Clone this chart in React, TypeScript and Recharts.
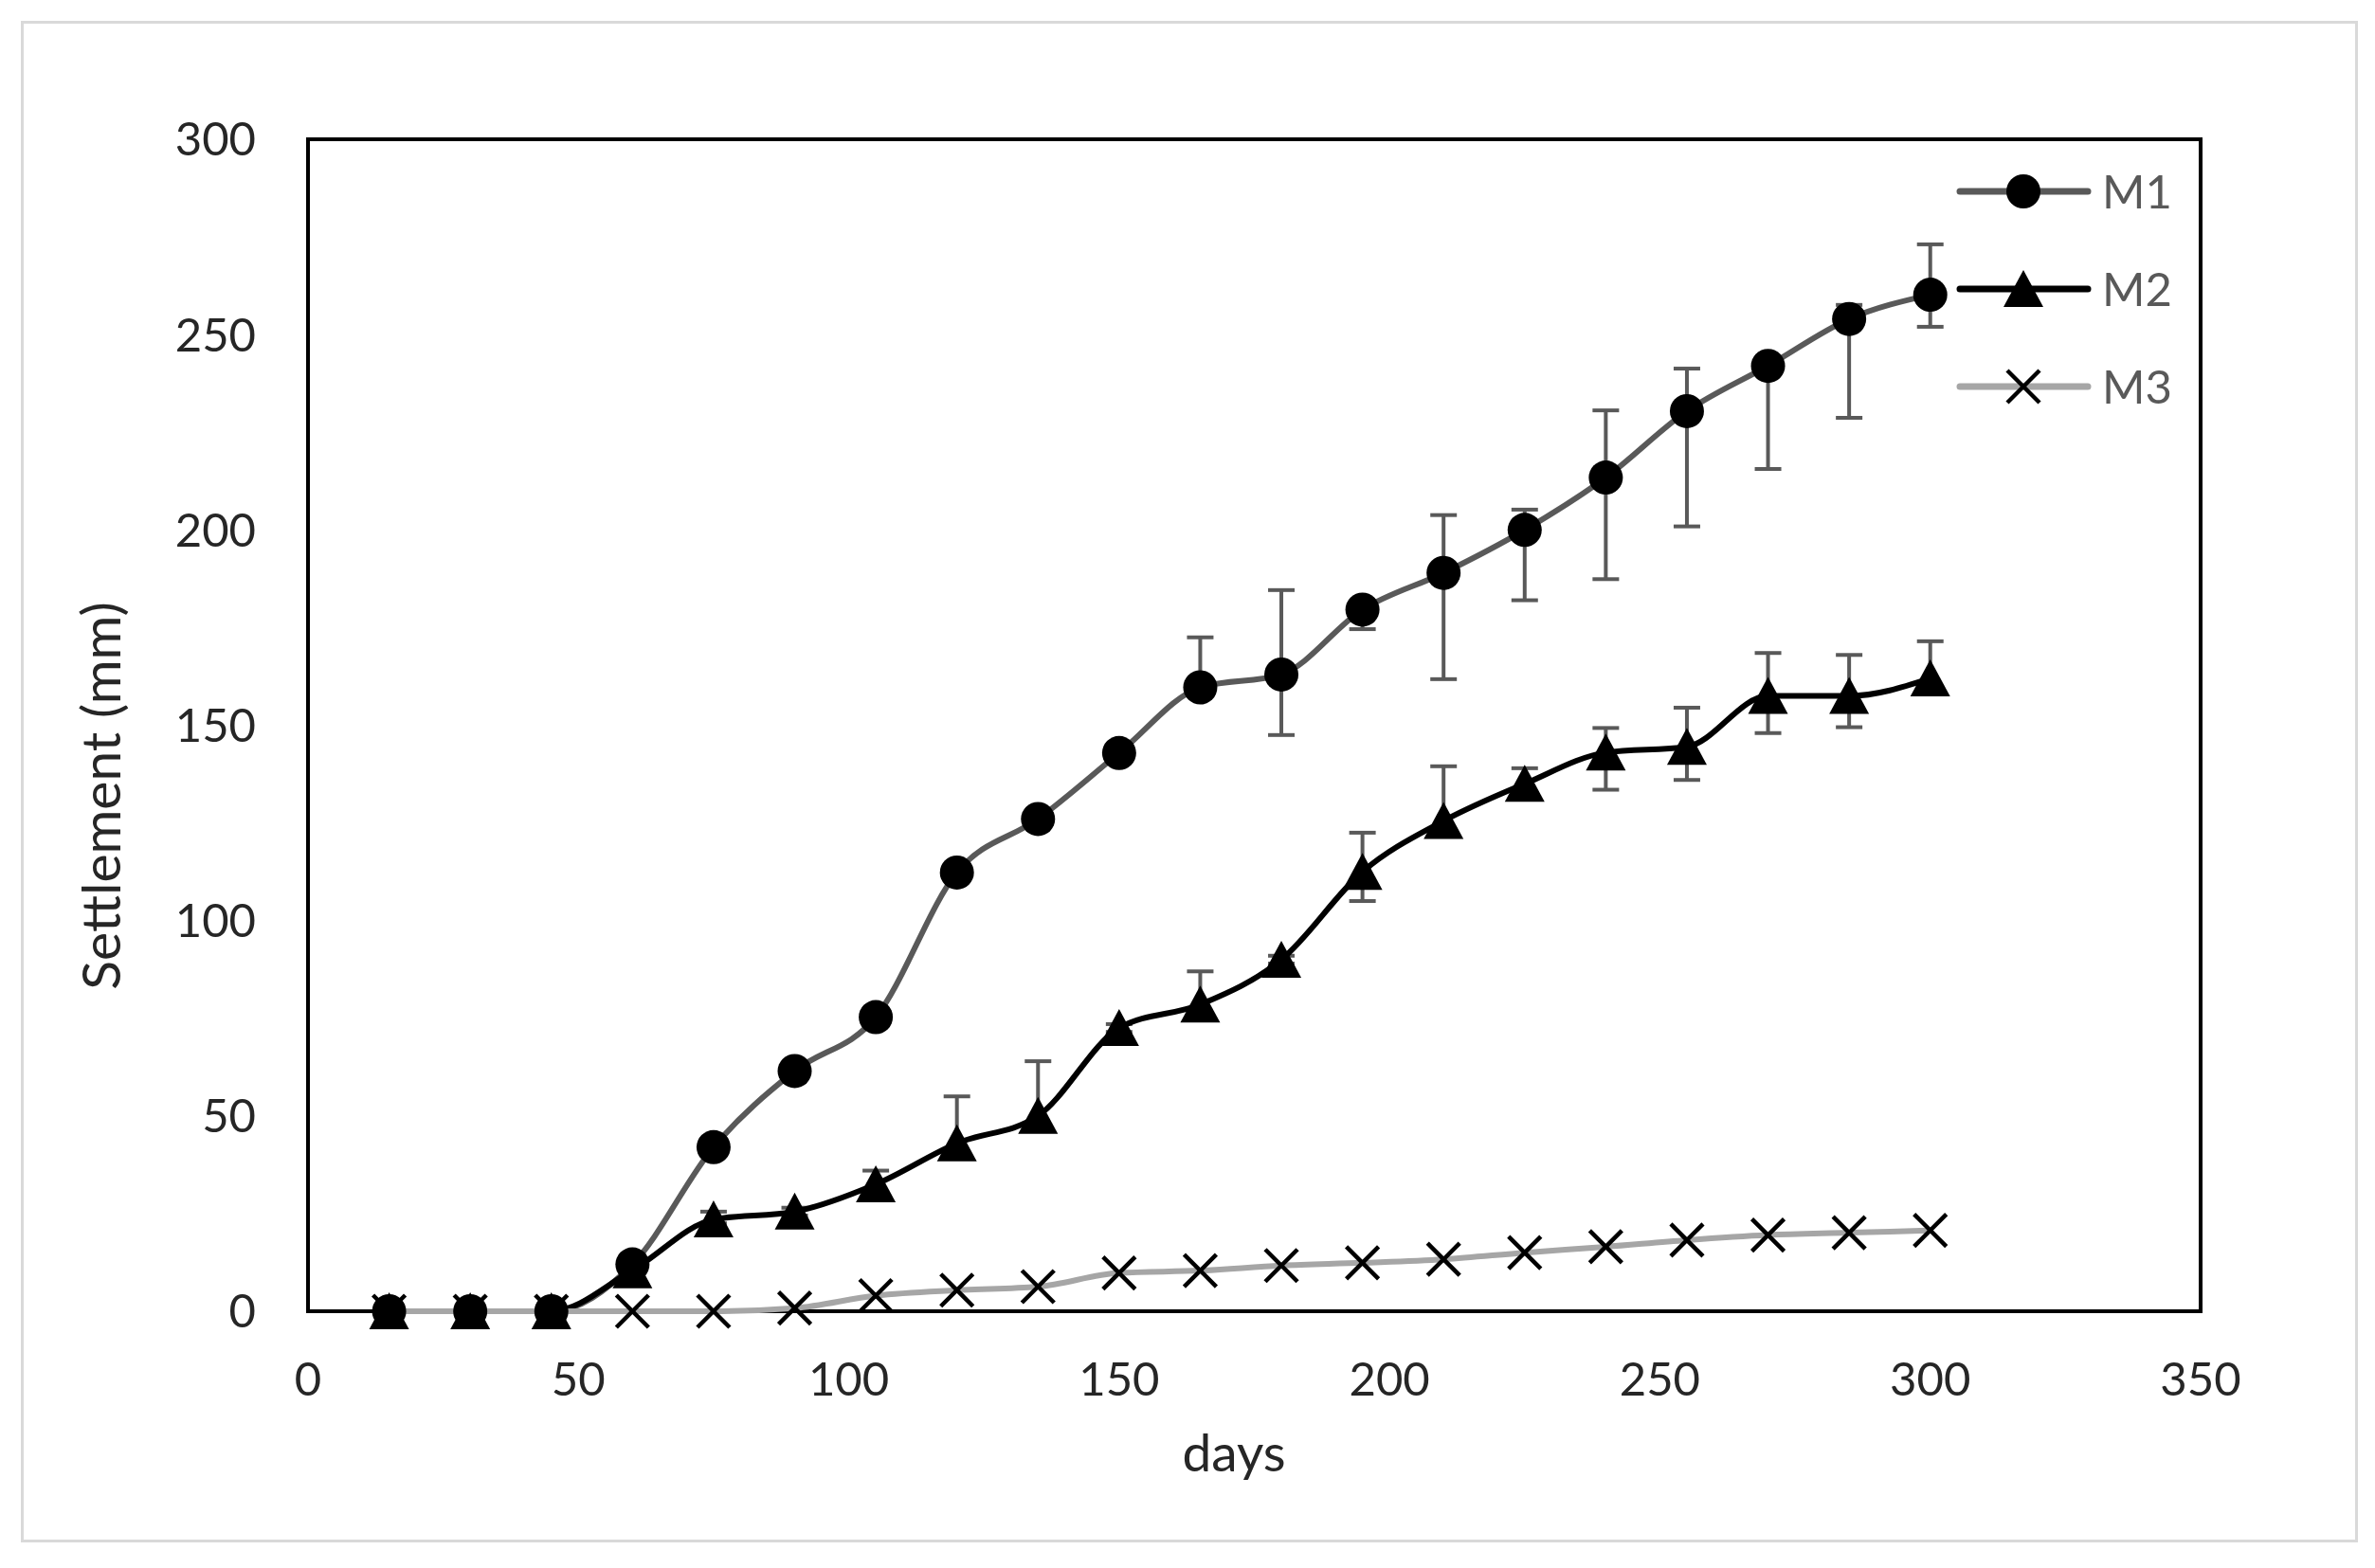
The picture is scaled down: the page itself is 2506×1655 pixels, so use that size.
import React from "react";
import {
  ErrorBar,
  Legend,
  Line,
  LineChart,
  ReferenceArea,
  XAxis,
  YAxis,
} from "recharts";

const days = [15, 30, 45, 60, 75, 90, 105, 120, 135, 150, 165, 180, 195, 210, 225, 240, 255, 270, 285, 300];

const m1 = [0, 0, 0, 12, 42, 61.5, 75.3, 112.3, 126, 142.9, 159.7, 163, 179.6, 189, 200, 213.4, 230.4, 242, 254, 260.2];
const m1ErrLow = [0, 0, 0, 0, 0, 0, 0, 0, 0, 0, 2, 15.5, 5, 27.2, 18, 26, 29.5, 26.4, 25.3, 8.2];
const m1ErrHigh = [0, 0, 0, 0, 0, 0, 0, 0, 0, 0, 12.8, 21.6, 2, 14.8, 5.2, 17.2, 10.9, 2, 3.6, 12.9];

const m2 = [0, 0, 0, 10.5, 23.5, 25.5, 32.5, 43, 50, 72.5, 78.5, 90, 112.5, 125.5, 135, 143, 144.5, 157.5, 157.5, 162];
const m2ErrLow = [0, 0, 0, 0, 1, 1, 2, 3, 3, 1, 3, 1, 7.5, 2, 2, 9.5, 8.5, 9.5, 8, 2];
const m2ErrHigh = [0, 0, 0, 0, 2, 1, 3.5, 12, 14, 1, 8.5, 1, 10, 14, 4, 6.3, 10, 11, 10.5, 9.5];

const m3 = [0, 0, 0, 0, 0, 0.8, 4, 5.4, 6.3, 9.8, 10.4, 11.7, 12.4, 13.3, 15, 16.5, 18.2, 19.5, 20.1, 20.7];

const xTicks = [0, 50, 100, 150, 200, 250, 300, 350];
const yTicks = [0, 50, 100, 150, 200, 250, 300];
const seriesNames = ["M1", "M2", "M3"];

const data = days.map((day, i) => ({
  day,
  m1: m1[i],
  m1Err: [m1ErrLow[i], m1ErrHigh[i]],
  m2: m2[i],
  m2Err: [m2ErrLow[i], m2ErrHigh[i]],
  m3: m3[i],
}));

const FONT = "Lato, 'Open Sans', sans-serif";
const TEXT = "#262626";
const colors = { m1: "#595959", m2: "#000000", m3: "#A6A6A6" };

function CircleMark({ cx, cy }: { cx: number; cy: number }) {
  return <circle cx={cx} cy={cy} r={18} fill="#000" />;
}

function TriangleMark({ cx, cy }: { cx: number; cy: number }) {
  return <polygon points={`${cx},${cy - 20} ${cx - 21},${cy + 19} ${cx + 21},${cy + 19}`} fill="#000" />;
}

function CrossMark({ cx, cy }: { cx: number; cy: number }) {
  const d = 17;
  return (
    <g stroke="#000" strokeWidth={4.5}>
      <line x1={cx - d} y1={cy - d} x2={cx + d} y2={cy + d} />
      <line x1={cx - d} y1={cy + d} x2={cx + d} y2={cy - d} />
    </g>
  );
}

const marks = [CircleMark, TriangleMark, CrossMark];
const lineColors = [colors.m1, colors.m2, colors.m3];

function renderDot(Mark: typeof CircleMark, prefix: string) {
  return (props: any) => {
    if (props.cx == null || props.cy == null) return <g key={`${prefix}-${props.index}`} />;
    return (
      <g key={`${prefix}-${props.index}`}>
        <Mark cx={props.cx} cy={props.cy} />
      </g>
    );
  };
}

function LegendBox() {
  return (
    <div style={{ fontFamily: FONT }}>
      {seriesNames.map((name, i) => {
        const Mark = marks[i];
        return (
          <div key={name} style={{ display: "flex", alignItems: "center", height: 103 }}>
            <svg width={150} height={60} style={{ display: "block" }}>
              <line x1={8} x2={143} y1={30} y2={30} stroke={lineColors[i]} strokeWidth={7} strokeLinecap="round" />
              <Mark cx={75} cy={30} />
            </svg>
            <span style={{ fontSize: 49, color: "#595959", marginLeft: 8, lineHeight: 1 }}>{name}</span>
          </div>
        );
      })}
    </div>
  );
}

export default function App() {
  return (
    <div style={{ position: "absolute", left: 0, top: 0, width: 2506, height: 1655, background: "#fff" }}>
      <div
        style={{
          position: "absolute",
          left: 22,
          top: 22,
          width: 2460,
          height: 1600,
          border: "3px solid #D9D9D9",
        }}
      />
      <LineChart
        width={2506}
        height={1655}
        data={data}
        margin={{ top: 147, right: 184, left: 175, bottom: 121 }}
        style={{ fontFamily: FONT }}
      >
        <ReferenceArea x1={0} x2={350} y1={0} y2={300} fill="none" stroke="#000" strokeWidth={4} />
        <XAxis
          type="number"
          dataKey="day"
          domain={[0, 350]}
          ticks={xTicks}
          axisLine={false}
          tickLine={false}
          tickSize={10}
          tickMargin={44}
          height={150}
          interval={0}
          tick={{ fontSize: 49, fill: TEXT, fontFamily: FONT }}
          label={{
            content: () => (
              <text x={1302} y={1553} textAnchor="middle" fontSize={55} fill={TEXT} fontFamily={FONT}>
                days
              </text>
            ),
          }}
        />
        <YAxis
          type="number"
          domain={[0, 300]}
          ticks={yTicks}
          axisLine={false}
          tickLine={false}
          tickSize={10}
          tickMargin={45}
          width={150}
          interval={0}
          tick={{ fontSize: 49, fill: TEXT, fontFamily: FONT }}
          label={{
            content: () => (
              <text
                x={127}
                y={840}
                transform="rotate(-90 127 840)"
                textAnchor="middle"
                fontSize={57}
                fill={TEXT}
                fontFamily={FONT}
              >
                Settlement (mm)
              </text>
            ),
          }}
        />
        <Legend
          layout="vertical"
          align="center"
          verticalAlign="middle"
          content={() => <LegendBox />}
          wrapperStyle={{ left: 2060, top: 150, width: 300 }}
        />
        <Line
          type="monotone"
          dataKey="m1"
          name="M1"
          stroke={colors.m1}
          strokeWidth={6}
          dot={renderDot(CircleMark, "m1")}
          activeDot={false}
          isAnimationActive={false}
        >
          <ErrorBar dataKey="m1Err" direction="y" width={14} stroke="#595959" strokeWidth={4} />
        </Line>
        <Line
          type="monotone"
          dataKey="m2"
          name="M2"
          stroke={colors.m2}
          strokeWidth={6}
          dot={renderDot(TriangleMark, "m2")}
          activeDot={false}
          isAnimationActive={false}
        >
          <ErrorBar dataKey="m2Err" direction="y" width={14} stroke="#595959" strokeWidth={4} />
        </Line>
        <Line
          type="monotone"
          dataKey="m3"
          name="M3"
          stroke={colors.m3}
          strokeWidth={6}
          dot={renderDot(CrossMark, "m3")}
          activeDot={false}
          isAnimationActive={false}
        />
      </LineChart>
    </div>
  );
}
